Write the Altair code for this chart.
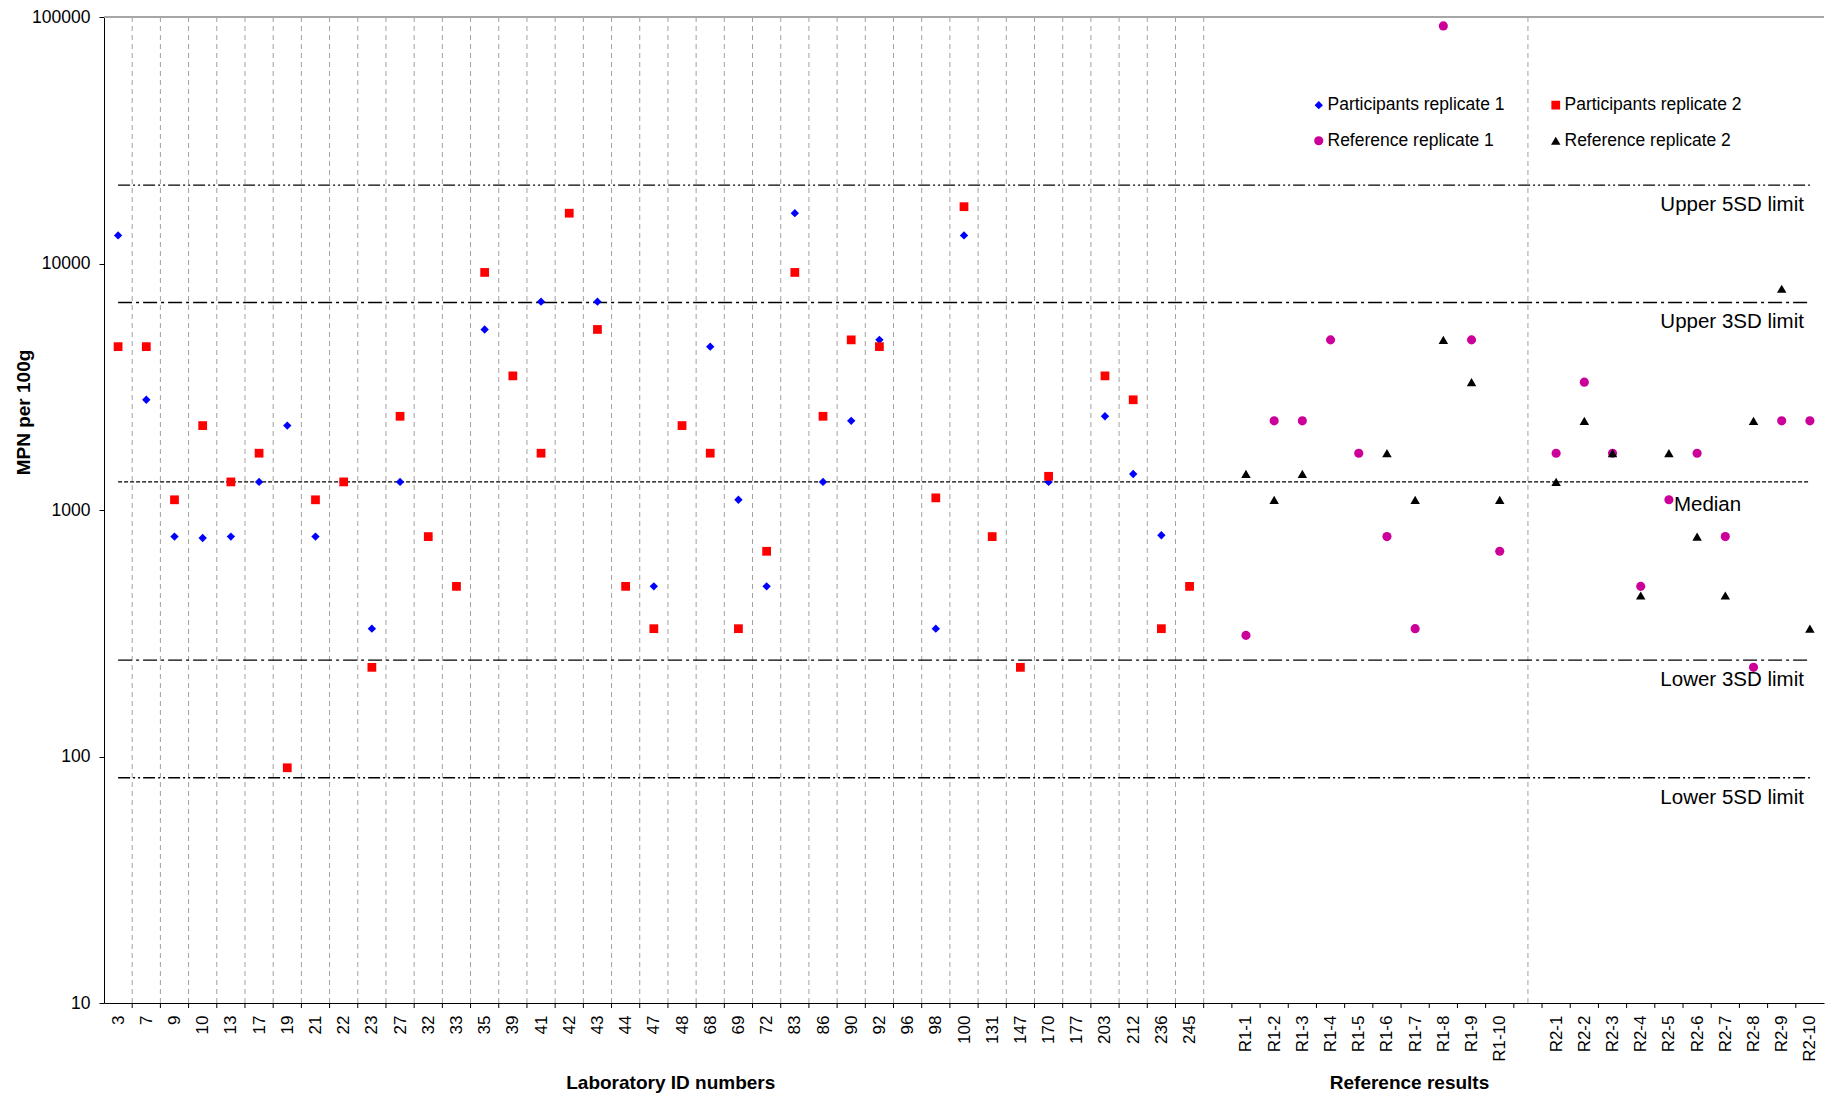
import json
import altair as alt
import pandas as pd

# ---------------- data ----------------
labs = ["3", "7", "9", "10", "13", "17", "19", "21", "22", "23", "27", "32", "33",
        "35", "39", "41", "42", "43", "44", "47", "48", "68", "69", "72", "83",
        "86", "90", "92", "96", "98", "100", "131", "147", "170", "177", "203",
        "212", "236", "245"]
part_rep1 = [13000, 2800, 780, 770, 780, 1300, 2200, 780, 1300, 330, 1300, 780, 490,
             5400, 3500, 7000, 16000, 7000, 490, 490, 2200, 4600, 1100, 490, 16000,
             1300, 2300, 4900, None, 330, 13000, 780, 230, 1300, None, 2400,
             1400, 790, 490]
part_rep2 = [4600, 4600, 1100, 2200, 1300, 1700, 90, 1100, 1300, 230, 2400, 780, 490,
             9200, 3500, 1700, 16000, 5400, 490, 330, 2200, 1700, 330, 680, 9200,
             2400, 4900, 4600, None, 1120, 17000, 780, 230, 1370, None, 3500,
             2800, 330, 490]

r1_ids = ["R1-1", "R1-2", "R1-3", "R1-4", "R1-5", "R1-6", "R1-7", "R1-8", "R1-9", "R1-10"]
r1_rep1 = [310, 2300, 2300, 4900, 1700, 780, 330, 92000, 4900, 680]
r1_rep2 = [1400, 1100, 1400, None, None, 1700, 1100, 4900, 3300, 1100]

r2_ids = ["R2-1", "R2-2", "R2-3", "R2-4", "R2-5", "R2-6", "R2-7", "R2-8", "R2-9", "R2-10"]
r2_rep1 = [1700, 3300, 1700, 490, 1100, 1700, 780, 230, 2300, 2300]
r2_rep2 = [1300, 2300, 1700, 450, 1700, 780, 450, 2300, 7900, 330]

series_names = ["Participants replicate 1", "Participants replicate 2",
                "Reference replicate 1", "Reference replicate 2"]

limit_names = ["Upper 5SD limit", "Upper 3SD limit", "Median", "Lower 3SD limit", "Lower 5SD limit"]
limit_values = [20800, 6950, 1300, 246, 82]

# ---------------- layout of category slots ----------------
slots = labs + [""] + r1_ids + [" "] + r2_ids
pos = {name: i for i, name in enumerate(slots)}
n_slots = len(slots)
label_positions = [i for i, s in enumerate(slots) if s.strip() != ""]

rows = []
for name, ids, vals in [
    (series_names[0], labs, part_rep1),
    (series_names[1], labs, part_rep2),
    (series_names[2], r1_ids + r2_ids, r1_rep1 + r2_rep1),
    (series_names[3], r1_ids + r2_ids, r1_rep2 + r2_rep2),
]:
    for cid, v in zip(ids, vals):
        if v is not None:
            rows.append({"pos": pos[cid], "value": v, "series": name})
points_df = pd.DataFrame(rows)

# vertical dashed separators: every boundary in lab section + one in the middle of the second gap
grid_pos = [i + 0.5 for i in range(len(labs))] + [pos[" "]]
grid_df = pd.DataFrame({"pos": grid_pos, "value": [10] * len(grid_pos), "value2": [100000] * len(grid_pos)})

# tick marks at every category boundary
tick_df = pd.DataFrame({"pos": [i + 0.5 for i in range(n_slots - 1)]})

first_pos = pos[labs[0]]
last_pos = pos[r2_ids[-1]]
limits_df = pd.DataFrame({"name": limit_names, "value": limit_values,
                          "pos": [first_pos] * 5, "pos2": [last_pos] * 5})

W, H = 1720, 986
FONT = "Liberation Sans"

x_scale = alt.Scale(domain=[-0.5, n_slots - 0.5], nice=False, zero=False)
y_scale = alt.Scale(type="log", domain=[10, 100000], nice=False)

x_axis = alt.Axis(values=label_positions,
                  labelExpr=json.dumps(slots) + "[round(datum.value)]",
                  labelAngle=270, labelAlign="right", labelBaseline="middle",
                  labelFontSize=17, labelPadding=12, labelColor="black",
                  labelOverlap=False, labelFlush=False, labelBound=False,
                  ticks=False, tickSize=0, grid=False, domainColor="black",
                  domainWidth=1, title=None)
y_axis = alt.Axis(values=[10, 100, 1000, 10000, 100000], format="d",
                  labelFontSize=17.5, labelPadding=9, labelColor="black", labelFlush=False,
                  tickSize=5, tickColor="black", domainColor="black", grid=False,
                  title="MPN per 100g", titleFontSize=19, titleFontWeight="bold",
                  titleColor="black", titleAngle=270, titleX=-81, titleY=395,
                  titleAlign="center", titleBaseline="middle")

X = lambda f="pos": alt.X(f"{f}:Q", scale=x_scale, axis=x_axis)
Y = lambda f="value": alt.Y(f"{f}:Q", scale=y_scale, axis=y_axis)

grid = alt.Chart(grid_df).mark_rule(color="#A0A0A0", strokeWidth=1, strokeDash=[5, 4]).encode(
    x=X(), y=Y(), y2="value2:Q")

top_border = alt.Chart(pd.DataFrame({"pos": [-0.5], "pos2": [n_slots - 0.5], "value": [100000]})).mark_rule(
    color="#A6A6A6", strokeWidth=2).encode(x=X(), x2="pos2:Q", y=Y())

limit_lines = alt.Chart(limits_df).mark_rule(color="black", strokeWidth=1.4).encode(
    x=X(), x2="pos2:Q", y=Y(),
    strokeDash=alt.StrokeDash("name:N", legend=None, scale=alt.Scale(
        domain=limit_names,
        range=[[12, 3, 2, 3, 2, 3], [14, 4, 3, 4], [4, 2], [14, 4, 3, 4], [12, 3, 2, 3, 2, 3]])))

side_labels = pd.DataFrame({"name": [n for n in limit_names if n != "Median"],
                            "value": [v for n, v in zip(limit_names, limit_values) if n != "Median"]})
side_labels["pos"] = last_pos
limit_text = alt.Chart(side_labels).mark_text(
    align="right", baseline="middle", dx=-6, dy=20, fontSize=20.5, font=FONT, color="black").encode(
    x=X(), y=Y(), text="name:N")

median_df = pd.DataFrame({"name": ["Median"], "value": [limit_values[2]], "pos": [pos["R2-5"]]})
median_text = alt.Chart(median_df).mark_text(
    align="left", baseline="middle", dx=5, dy=23, fontSize=20.5, font=FONT, color="black").encode(
    x=X(), y=Y(), text="name:N")

legend = alt.Legend(title=None, orient="none", legendX=1206, legendY=79, columns=2,
                    direction="horizontal",
                    labelFontSize=17.5, labelFont=FONT, labelColor="black", labelLimit=0,
                    labelOffset=0, rowPadding=17, columnPadding=42, padding=0,
                    symbolStrokeWidth=0)

points = alt.Chart(points_df).mark_point(filled=True, opacity=1, strokeWidth=0).encode(
    x=X(), y=Y(),
    color=alt.Color("series:N", legend=legend, scale=alt.Scale(
        domain=series_names, range=["#0000FF", "#FF0000", "#CC0099", "#000000"])),
    shape=alt.Shape("series:N", legend=legend, scale=alt.Scale(
        domain=series_names, range=["diamond", "square", "circle", "triangle-up"])),
    size=alt.Size("series:N", legend=legend, scale=alt.Scale(
        domain=series_names, range=[70, 90, 64, 64])),
)

ticks = alt.Chart(tick_df).mark_rule(color="black", strokeWidth=1).encode(
    x=X(), y=alt.value(H), y2=alt.value(H + 5))

titles_df = pd.DataFrame({"name": ["Laboratory ID numbers", "Reference results"],
                          "pos": [19.6, 45.8]})
titles = alt.Chart(titles_df).mark_text(
    align="center", baseline="middle", fontSize=19, fontWeight="bold", font=FONT, color="black").encode(
    x=X(), y=alt.value(H + 80), text="name:N")

chart = alt.layer(grid, top_border, limit_lines, limit_text, median_text, points, ticks, titles).properties(
    width=W, height=H,
    autosize=alt.AutoSizeParams(type="none"),
    padding={"left": 96, "top": 9, "right": 2, "bottom": 90},
).configure(font=FONT).configure_view(stroke=None)

chart.save("out.html", embed_options={"renderer": "svg", "actions": False})
